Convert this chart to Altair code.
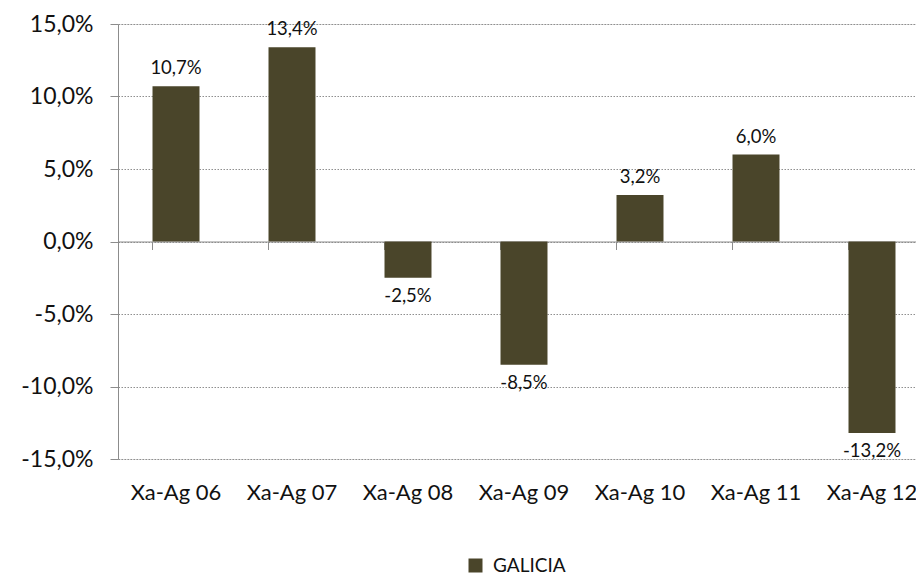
import altair as alt
import pandas as pd

categories = ["Xa-Ag 06", "Xa-Ag 07", "Xa-Ag 08", "Xa-Ag 09", "Xa-Ag 10", "Xa-Ag 11", "Xa-Ag 12"]
values = [10.7, 13.4, -2.5, -8.5, 3.2, 6.0, -13.2]
series_name = "GALICIA"
y_ticks = [-15, -10, -5, 0, 5, 10, 15]

BAR = "#4A452A"
AXIS_GRAY = "#8c8c8c"
GRID_GRAY = "#8f8f8f"
TXT = "#111111"
FONT = "Lato"

df = pd.DataFrame({"cat": categories, "value": values, "series": [series_name] * len(values)})

fmt = "(datum.value < 0 ? '-' : '') + replace(format(abs(datum.value), '.1f'), '.', ',') + '%'"

xscale = alt.Scale(domain=categories, paddingInner=0.595, paddingOuter=0.2975)
yscale = alt.Scale(domain=[-15, 15], nice=False, zero=False)

base = alt.Chart(df).transform_calculate(label=fmt)

bars = base.mark_bar().encode(
    x=alt.X("cat:N", scale=xscale, sort=categories,
            axis=alt.Axis(orient="bottom", offset=-217.5, labels=False, title=None,
                          bandPosition=0, tickSize=8, tickColor=AXIS_GRAY,
                          domainColor=AXIS_GRAY, grid=False)),
    y=alt.Y("value:Q", scale=yscale,
            axis=alt.Axis(values=y_ticks, title=None, labelExpr=fmt, grid=True,
                          gridDash=[1.5, 1.5], gridColor=GRID_GRAY, gridWidth=1,
                          domainColor=AXIS_GRAY, tickColor=AXIS_GRAY, tickSize=8,
                          labelFont=FONT, labelFontSize=23, labelColor=TXT,
                          labelPadding=17)),
    color=alt.Color("series:N", scale=alt.Scale(domain=[series_name], range=[BAR]),
                    legend=alt.Legend(title=None, orient="none", legendX=348, legendY=532,
                                      symbolType="square", symbolSize=196,
                                      symbolStrokeWidth=0, labelFont=FONT,
                                      labelFontSize=19, labelColor=TXT,
                                      labelOffset=8, padding=0)),
)

label_axis = base.mark_point(opacity=0).encode(
    x=alt.X("cat:N", scale=xscale, sort=categories,
            axis=alt.Axis(orient="bottom", domain=False, ticks=False, title=None,
                          labelFont=FONT, labelFontSize=22, labelColor=TXT,
                          labelPadding=23, labelAngle=0)),
    y=alt.Y("value:Q", scale=yscale),
)

pos = base.transform_filter("datum.value >= 0").mark_text(
    baseline="bottom", dy=-8, fontSize=18.5, font=FONT, color=TXT
).encode(
    x=alt.X("cat:N", scale=xscale, sort=categories, axis=None),
    y=alt.Y("value:Q", scale=yscale),
    text="label:N",
)

neg = base.transform_filter("datum.value < 0").mark_text(
    baseline="top", dy=9, fontSize=18.5, font=FONT, color=TXT
).encode(
    x=alt.X("cat:N", scale=xscale, sort=categories, axis=None),
    y=alt.Y("value:Q", scale=yscale),
    text="label:N",
)

chart = alt.layer(bars, label_axis, pos, neg).resolve_axis(x="independent").properties(
    width=812, height=435,
    padding={"left": 110, "top": 16, "right": -14, "bottom": 116},
    autosize=alt.AutoSizeParams(type="none"),
).configure_view(stroke=None).configure(font=FONT)

chart.save("out.html", embed_options={"renderer": "svg", "actions": False})
